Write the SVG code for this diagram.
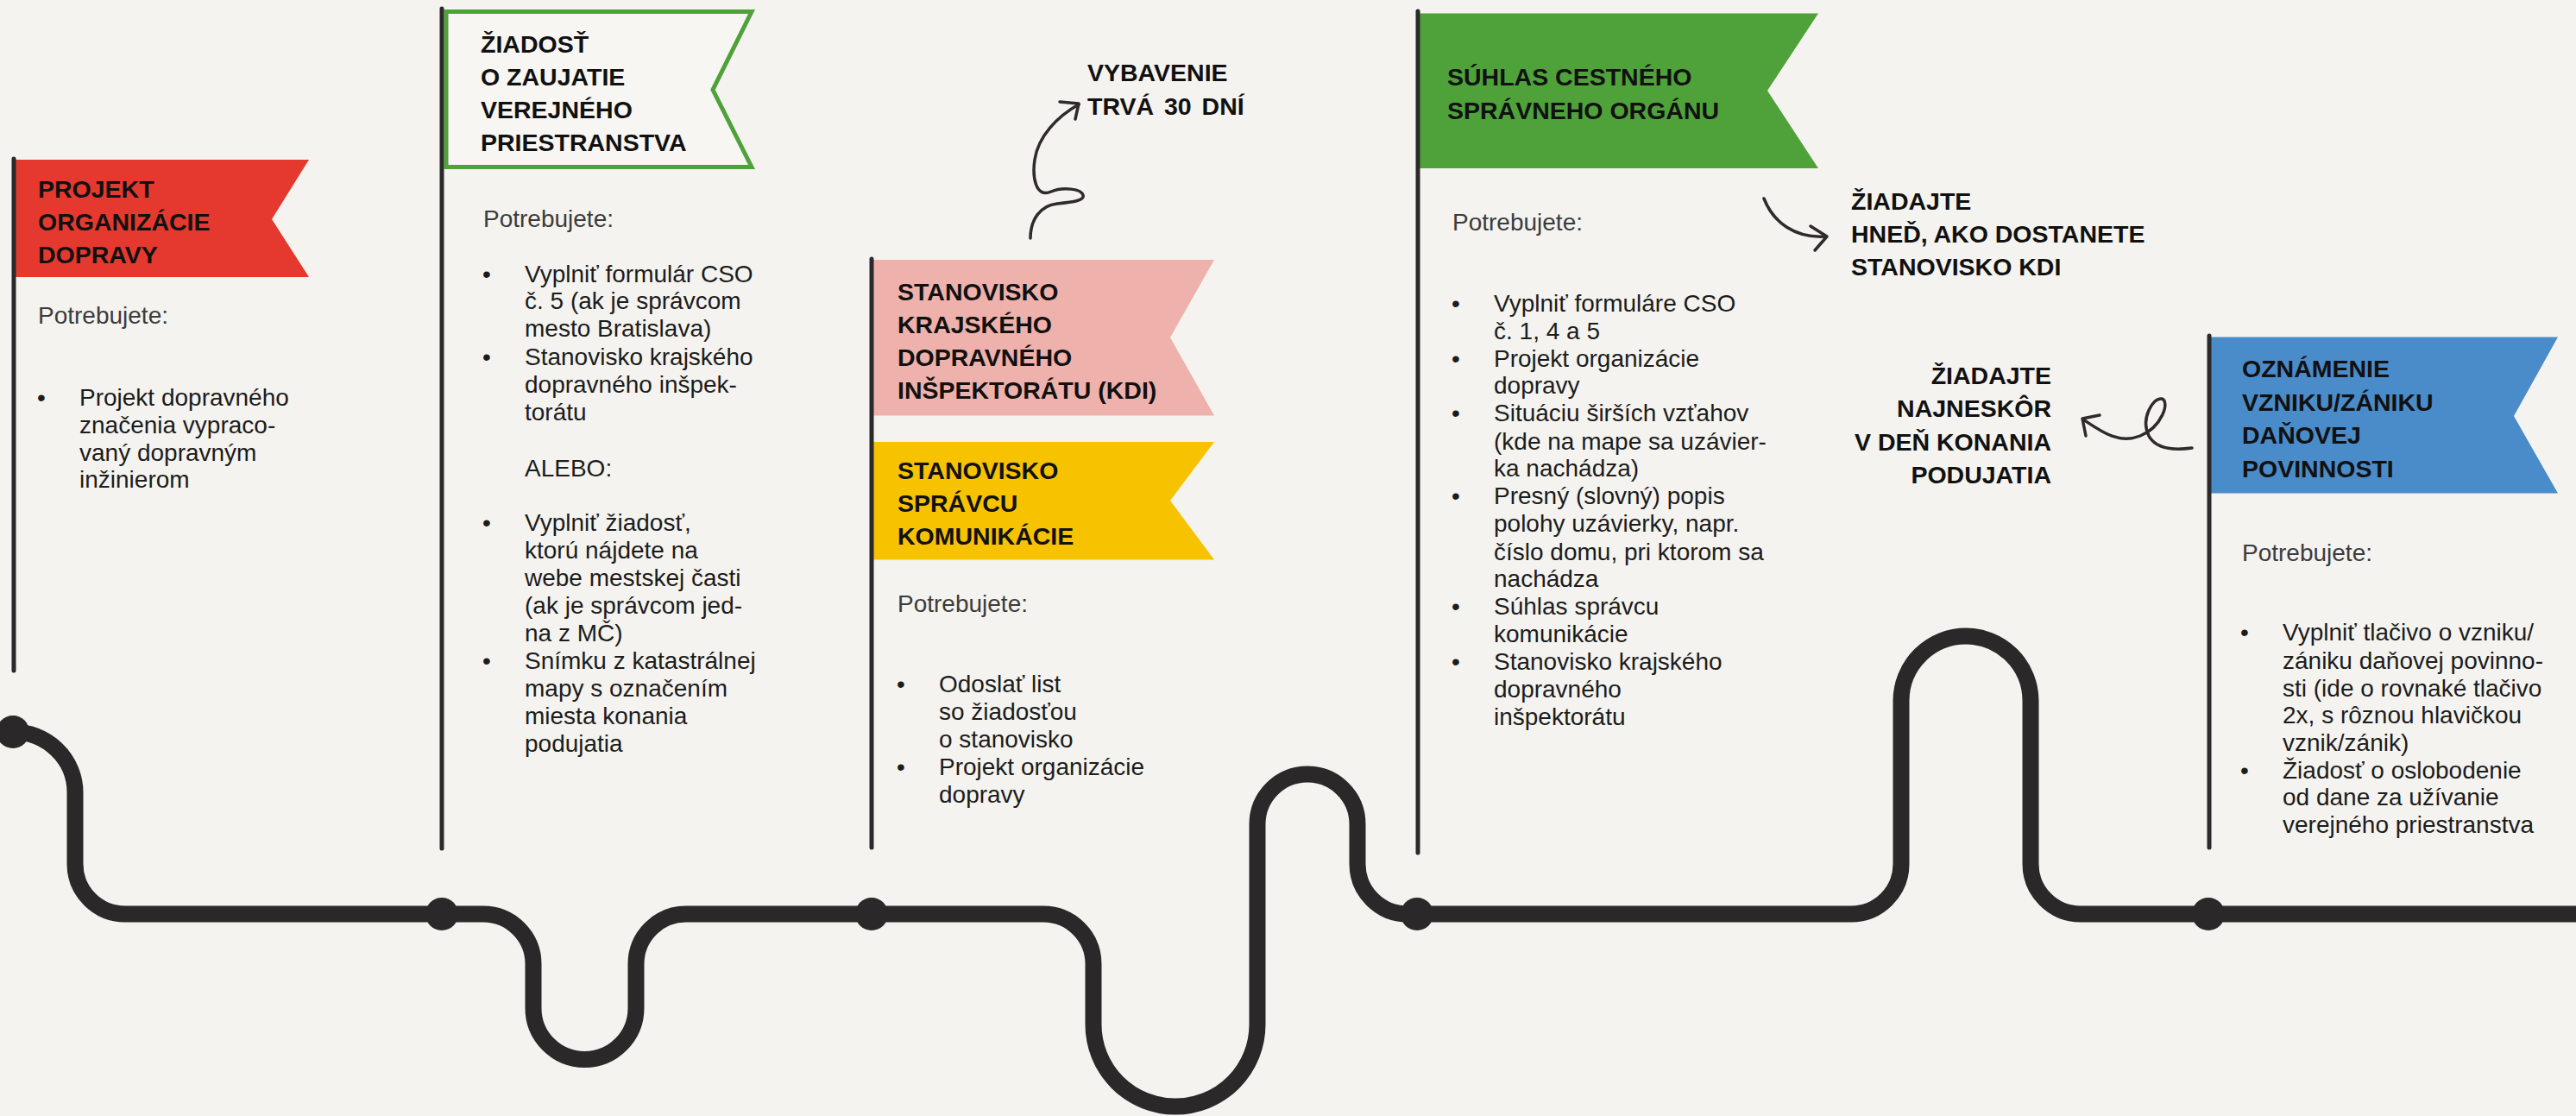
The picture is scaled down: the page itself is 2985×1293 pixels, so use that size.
<svg xmlns="http://www.w3.org/2000/svg" width="2985" height="1293" viewBox="0 0 2985 1293">
<style>
.h{font-family:"Liberation Sans",Arial,sans-serif;font-weight:700;font-size:28.5px;fill:#111}
.b{font-family:"Liberation Sans",Arial,sans-serif;font-size:28px;fill:#1c1c1c}
.p{fill:#3c3c3c}
.pole{stroke:#2b2929;stroke-width:5;stroke-linecap:round}
.road{fill:none;stroke:#2a2829;stroke-width:19}
.dot{fill:#2a2829}
.arr{fill:none;stroke:#2e2b2a;stroke-width:3.5;stroke-linecap:round;stroke-linejoin:round}
</style>
<rect width="2985" height="1293" fill="#f4f3ef"/>
<g id="connectors">
<path class="road" d="M15,848 A72,70 0 0 1 87,918 V1001 A58,58 0 0 0 145,1059 H560 A58,58 0 0 1 618,1117 V1168 A59.5,59.5 0 0 0 737,1168 V1117 A58,58 0 0 1 795,1059 H1209 A58,58 0 0 1 1267,1117 V1187 A95,95 0 0 0 1457,1187 V955 A58,58 0 0 1 1573,955 V1001 A58,58 0 0 0 1631,1059 H2145 A58,58 0 0 0 2203,1001 V812 A75,75 0 0 1 2353,812 V1001 A58,58 0 0 0 2411,1059 H2995"/>
<circle class="dot" cx="15" cy="848" r="19"/>
<circle class="dot" cx="512" cy="1059" r="19"/>
<circle class="dot" cx="1010" cy="1059" r="19"/>
<circle class="dot" cx="1642" cy="1059" r="19"/>
<circle class="dot" cx="2559" cy="1059" r="19"/>
<path class="arr" d="M1194,276 C1194,255 1205,238 1225,236 C1245,234 1257,232 1255,226 C1253,219 1232,216 1218,222 C1200,230 1196,205 1199,185 C1203,158 1225,135 1250,121"/>
<path class="arr" d="M1228,118 L1250,120 L1246,138"/>
<path class="arr" d="M2044,230 C2055,258 2080,276 2115,274"/>
<path class="arr" d="M2098,262 L2117,274 L2103,290"/>
<path class="arr" d="M2540,519 C2518,522 2498,520 2490,505 C2480,485 2495,460 2505,462 C2515,465 2505,495 2480,505 C2455,515 2435,500 2414,486"/>
<path class="arr" d="M2433,481 L2413,485 L2417,505"/>
</g>
<g id="note-vybavenie">
<text class="h" x="1260" y="94">VYBAVENIE</text>
<text class="h" x="1260" y="133" word-spacing="4">TRVÁ 30 DNÍ</text>
</g>
<g id="note-hned">
<text class="h" x="2145" y="243">ŽIADAJTE</text>
<text class="h" x="2145" y="281">HNEĎ, AKO DOSTANETE</text>
<text class="h" x="2145" y="319">STANOVISKO KDI</text>
</g>
<g id="note-najneskor">
<text class="h" x="2377" y="445" text-anchor="end">ŽIADAJTE</text>
<text class="h" x="2377" y="483" text-anchor="end">NAJNESKÔR</text>
<text class="h" x="2377" y="522" text-anchor="end">V DEŇ KONANIA</text>
<text class="h" x="2377" y="560" text-anchor="end">PODUJATIA</text>
</g>
<g id="step1">
<polygon points="16,185 358,185 315,254 358,321 16,321" fill="#e5392f"/>
<line class="pole" x1="16" y1="184" x2="16" y2="777"/>
<text class="h" x="44" y="229">PROJEKT</text>
<text class="h" x="44" y="267">ORGANIZÁCIE</text>
<text class="h" x="44" y="305">DOPRAVY</text>
<text class="b p" x="44" y="375">Potrebujete:</text>
<text class="b" x="43" y="470">•</text>
<text class="b" x="92" y="470">Projekt dopravného</text>
<text class="b" x="92" y="502">značenia vypraco-</text>
<text class="b" x="92" y="534">vaný dopravným</text>
<text class="b" x="92" y="565">inžinierom</text>
</g>
<g id="step2">
<polygon points="517,13.5 871,13.5 826,104 871,193.5 517,193.5" fill="#f7f6f3" stroke="#4fa23a" stroke-width="5"/>
<line class="pole" x1="512" y1="10" x2="512" y2="983"/>
<text class="h" x="557" y="61">ŽIADOSŤ</text>
<text class="h" x="557" y="99">O ZAUJATIE</text>
<text class="h" x="557" y="137">VEREJNÉHO</text>
<text class="h" x="557" y="175">PRIESTRANSTVA</text>
<text class="b p" x="560" y="263">Potrebujete:</text>
<text class="b" x="559" y="327">•</text>
<text class="b" x="608" y="327">Vyplniť formulár CSO</text>
<text class="b" x="608" y="358">č. 5 (ak je správcom</text>
<text class="b" x="608" y="390">mesto Bratislava)</text>
<text class="b" x="559" y="423">•</text>
<text class="b" x="608" y="423">Stanovisko krajského</text>
<text class="b" x="608" y="455">dopravného inšpek-</text>
<text class="b" x="608" y="487">torátu</text>
<text class="b" x="608" y="552">ALEBO:</text>
<text class="b" x="559" y="615">•</text>
<text class="b" x="608" y="615">Vyplniť žiadosť,</text>
<text class="b" x="608" y="647">ktorú nájdete na</text>
<text class="b" x="608" y="679">webe mestskej časti</text>
<text class="b" x="608" y="711">(ak je správcom jed-</text>
<text class="b" x="608" y="743">na z MČ)</text>
<text class="b" x="559" y="775">•</text>
<text class="b" x="608" y="775">Snímku z katastrálnej</text>
<text class="b" x="608" y="807">mapy s označením</text>
<text class="b" x="608" y="839">miesta konania</text>
<text class="b" x="608" y="871">podujatia</text>
</g>
<g id="step3">
<polygon points="1010,301 1407,301 1356,391 1407,481.5 1010,481.5" fill="#efb1ab"/>
<polygon points="1010,512 1407,512 1356,580 1407,648.6 1010,648.6" fill="#f7c200"/>
<line class="pole" x1="1010" y1="300" x2="1010" y2="982"/>
<text class="h" x="1040" y="348">STANOVISKO</text>
<text class="h" x="1040" y="386">KRAJSKÉHO</text>
<text class="h" x="1040" y="424">DOPRAVNÉHO</text>
<text class="h" x="1040" y="462">INŠPEKTORÁTU (KDI)</text>
<text class="h" x="1040" y="555">STANOVISKO</text>
<text class="h" x="1040" y="593">SPRÁVCU</text>
<text class="h" x="1040" y="631">KOMUNIKÁCIE</text>
<text class="b p" x="1040" y="709">Potrebujete:</text>
<text class="b" x="1039" y="802">•</text>
<text class="b" x="1088" y="802">Odoslať list</text>
<text class="b" x="1088" y="834">so žiadosťou</text>
<text class="b" x="1088" y="866">o stanovisko</text>
<text class="b" x="1039" y="898">•</text>
<text class="b" x="1088" y="898">Projekt organizácie</text>
<text class="b" x="1088" y="930">dopravy</text>
</g>
<g id="step4">
<polygon points="1643,15.5 2107,15.5 2048,105 2107,195 1643,195" fill="#4fa23a"/>
<line class="pole" x1="1643" y1="13" x2="1643" y2="988"/>
<text class="h" x="1677" y="99">SÚHLAS CESTNÉHO</text>
<text class="h" x="1677" y="138">SPRÁVNEHO ORGÁNU</text>
<text class="b p" x="1683" y="267">Potrebujete:</text>
<text class="b" x="1682" y="361">•</text>
<text class="b" x="1731" y="361">Vyplniť formuláre CSO</text>
<text class="b" x="1731" y="393">č. 1, 4 a 5</text>
<text class="b" x="1682" y="425">•</text>
<text class="b" x="1731" y="425">Projekt organizácie</text>
<text class="b" x="1731" y="456">dopravy</text>
<text class="b" x="1682" y="488">•</text>
<text class="b" x="1731" y="488">Situáciu širších vzťahov</text>
<text class="b" x="1731" y="521">(kde na mape sa uzávier-</text>
<text class="b" x="1731" y="552">ka nachádza)</text>
<text class="b" x="1682" y="584">•</text>
<text class="b" x="1731" y="584">Presný (slovný) popis</text>
<text class="b" x="1731" y="616">polohy uzávierky, napr.</text>
<text class="b" x="1731" y="649">číslo domu, pri ktorom sa</text>
<text class="b" x="1731" y="680">nachádza</text>
<text class="b" x="1682" y="712">•</text>
<text class="b" x="1731" y="712">Súhlas správcu</text>
<text class="b" x="1731" y="744">komunikácie</text>
<text class="b" x="1682" y="776">•</text>
<text class="b" x="1731" y="776">Stanovisko krajského</text>
<text class="b" x="1731" y="808">dopravného</text>
<text class="b" x="1731" y="840">inšpektorátu</text>
</g>
<g id="step5">
<polygon points="2560,390.5 2964,390.5 2913,482 2964,571.6 2560,571.6" fill="#4a8bc9"/>
<line class="pole" x1="2560" y1="389" x2="2560" y2="982"/>
<text class="h" x="2598" y="437">OZNÁMENIE</text>
<text class="h" x="2598" y="476">VZNIKU/ZÁNIKU</text>
<text class="h" x="2598" y="514">DAŇOVEJ</text>
<text class="h" x="2598" y="553">POVINNOSTI</text>
<text class="b p" x="2598" y="650">Potrebujete:</text>
<text class="b" x="2596" y="742">•</text>
<text class="b" x="2645" y="742">Vyplniť tlačivo o vzniku/</text>
<text class="b" x="2645" y="775">zániku daňovej povinno-</text>
<text class="b" x="2645" y="807">sti (ide o rovnaké tlačivo</text>
<text class="b" x="2645" y="838">2x, s rôznou hlavičkou</text>
<text class="b" x="2645" y="870">vznik/zánik)</text>
<text class="b" x="2596" y="902">•</text>
<text class="b" x="2645" y="902">Žiadosť o oslobodenie</text>
<text class="b" x="2645" y="933">od dane za užívanie</text>
<text class="b" x="2645" y="965">verejného priestranstva</text>
</g>
</svg>
